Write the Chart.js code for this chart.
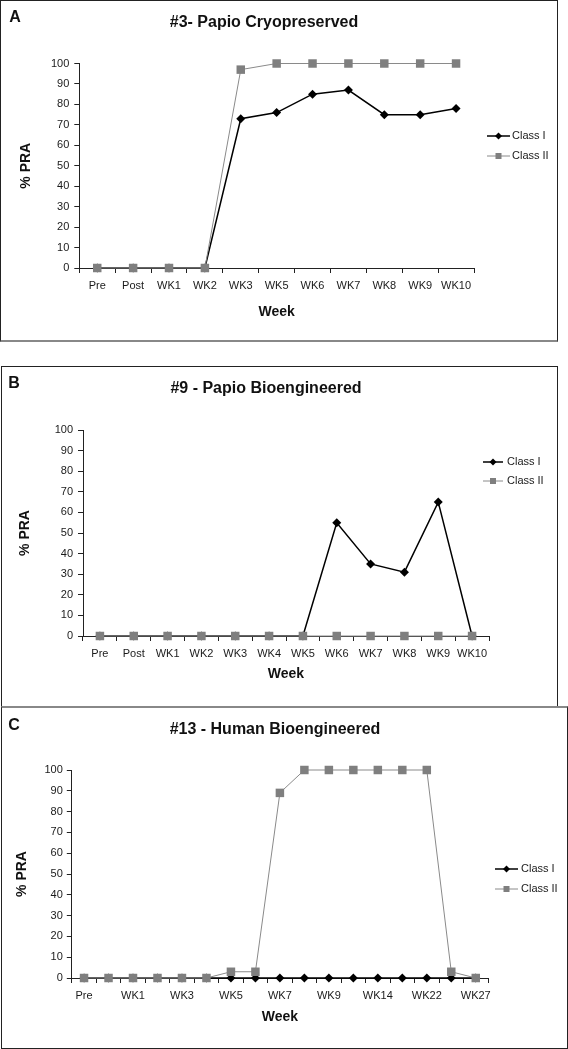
<!DOCTYPE html>
<html>
<head>
<meta charset="utf-8">
<script src="https://cdn.jsdelivr.net/npm/chart.js"></script>
<style>
  body { margin: 0; background: #fff; width: 568px; height: 1049px; position: relative; overflow: hidden; }
  canvas { position: absolute; }
  .frame { position: absolute; box-sizing: border-box; border: 1px solid #222; pointer-events: none; }
</style>
</head>
<body>
<canvas id="chartA" width="558" height="342" style="left:0;top:0"></canvas>
<div class="frame" style="left:0;top:0;width:558px;height:342px;border-bottom:2px solid #888"></div>

<canvas id="chartB" width="557" height="341" style="left:1px;top:366px"></canvas>
<div class="frame" style="left:1px;top:366px;width:557px;height:342px;border-bottom:2px solid #888"></div>

<canvas id="chartC" width="567" height="343" style="left:1px;top:706px"></canvas>
<div class="frame" style="left:1px;top:706px;width:567px;height:343px;border-top:2px solid #888"></div>

<script>
// panel A
const weeksA = ['Pre', 'Post', 'WK1', 'WK2', 'WK3', 'WK5', 'WK6', 'WK7', 'WK8', 'WK9', 'WK10']
const classIA = [0, 0, 0, 0, 73, 76, 85, 87, 75, 75, 78]
const classIIA = [0, 0, 0, 0, 97, 100, 100, 100, 100, 100, 100]

// panel B
const weeksB = ['Pre', 'Post', 'WK1', 'WK2', 'WK3', 'WK4', 'WK5', 'WK6', 'WK7', 'WK8', 'WK9', 'WK10']
const classIB = [0, 0, 0, 0, 0, 0, 0, 55, 35, 31, 65, 0]
const classIIB = [0, 0, 0, 0, 0, 0, 0, 0, 0, 0, 0, 0]

// panel C (only every other week label is printed)
const weeksC = ['Pre', 'Post', 'WK1', 'WK2', 'WK3', 'WK4', 'WK5', 'WK6', 'WK7', 'WK8', 'WK9', 'WK12', 'WK14', 'WK18', 'WK22', 'WK24', 'WK27']
const classIC = [0, 0, 0, 0, 0, 0, 0, 0, 0, 0, 0, 0, 0, 0, 0, 0, 0]
const classIIC = [0, 0, 0, 0, 0, 0, 3, 3, 89, 100, 100, 100, 100, 100, 100, 3, 0]

const yTicks = [0, 10, 20, 30, 40, 50, 60, 70, 80, 90, 100]

const FONT = '"Liberation Sans", Arial, sans-serif'
Chart.defaults.font.family = FONT
Chart.defaults.color = '#1a1a1a'

// panel letter, title and an Excel-like legend (line + marker)
const decor = {
    id: 'decor',
    afterDraw(chart, args, o) {
        const ctx = chart.ctx
        ctx.save()
        ctx.fillStyle = '#111'
        ctx.textBaseline = 'middle'
        ctx.textAlign = 'center'
        ctx.font = 'bold 16px ' + FONT
        ctx.fillText(o.letter, o.letterX, o.letterY)
        ctx.fillText(o.title, o.titleX, o.titleY)

        chart.data.datasets.forEach((ds, i) => {
            const y = o.legendY[i]
            const mx = (o.legendX0 + o.legendX1) / 2
            ctx.strokeStyle = ds.borderColor
            ctx.lineWidth = ds.borderWidth
            ctx.beginPath()
            ctx.moveTo(o.legendX0, y)
            ctx.lineTo(o.legendX1, y)
            ctx.stroke()
            ctx.fillStyle = ds.pointBackgroundColor
            ctx.beginPath()
            if (ds.pointStyle === 'rectRot') {
                ctx.moveTo(mx, y - 3.5)
                ctx.lineTo(mx + 3.5, y)
                ctx.lineTo(mx, y + 3.5)
                ctx.lineTo(mx - 3.5, y)
                ctx.closePath()
            } else {
                ctx.rect(mx - 3, y - 3, 6, 6)
            }
            ctx.fill()
            ctx.fillStyle = '#1a1a1a'
            ctx.textAlign = 'left'
            ctx.font = '11px ' + FONT
            ctx.fillText(ds.label, o.legendTX, y)
        })
        ctx.restore()
    }
}

function makeChart(id, labels, classI, classII, g) {
    const ctx = document.getElementById(id).getContext('2d')
    return new Chart(ctx, {
        type: 'line',
        data: {
            labels,
            datasets: [{
                label: 'Class I',
                data: classI,
                borderColor: '#000',
                borderWidth: 1.5,
                pointStyle: 'rectRot',
                pointRadius: 4.5,
                pointBackgroundColor: '#000',
                pointBorderWidth: 0,
                order: 1,
                clip: false
            }, {
                label: 'Class II',
                data: classII,
                borderColor: '#8a8a8a',
                borderWidth: 1,
                pointStyle: 'rect',
                pointRadius: 6,
                pointBackgroundColor: '#7f7f7f',
                pointBorderWidth: 0,
                order: 0,
                clip: false
            }]
        },
        options: {
            responsive: false,
            animation: false,
            devicePixelRatio: 1,
            layout: { padding: { left: 0, top: g.top, right: g.right, bottom: 0 } },
            plugins: {
                legend: { display: false },
                tooltip: { enabled: false },
                decor: g.decor
            },
            scales: {
                x: {
                    offset: true,
                    grid: { offset: true, drawOnChartArea: false, tickLength: 5, color: '#222' },
                    border: { color: '#222' },
                    ticks: {
                        autoSkip: false,
                        maxRotation: 0,
                        minRotation: 0,
                        padding: 6,
                        font: { size: 11 },
                        callback: function (v, i) {
                            return (i % g.labelEvery === 0) ? this.getLabelForValue(v) : ''
                        }
                    },
                    title: { display: true, text: 'Week', font: { size: 14, weight: 'bold' }, color: '#111', padding: { top: 0, bottom: g.xTitlePad } },
                    afterFit: s => { s.height = g.xH }
                },
                y: {
                    min: 0,
                    max: 100,
                    afterBuildTicks: s => { s.ticks = yTicks.map(v => ({ value: v })) },
                    grid: { drawOnChartArea: false, tickLength: 5, color: '#222' },
                    border: { color: '#222' },
                    ticks: { padding: g.yTickPad, font: { size: 11 } },
                    title: { display: true, text: '% PRA', font: { size: 14, weight: 'bold' }, color: '#111', padding: { top: g.yTitlePad, bottom: 0 } },
                    afterFit: s => { s.width = g.yW }
                }
            }
        },
        plugins: [decor]
    })
}

makeChart('chartA', weeksA, classIA, classIIA, {
    top: 63.5, right: 84, xH: 74, yW: 79.3, xTitlePad: 21.6, yTitlePad: 17.6, yTickPad: 5, labelEvery: 1,
    decor: { letter: 'A', letterX: 15, letterY: 18, title: '#3- Papio Cryopreserved', titleX: 264, titleY: 23,
        legendX0: 487, legendX1: 510, legendTX: 512, legendY: [136, 156] }
})

makeChart('chartB', weeksB, classIB, classIIB, {
    top: 64, right: 69, xH: 71, yW: 82, xTitlePad: 24.6, yTitlePad: 15.6, yTickPad: 5, labelEvery: 1,
    decor: { letter: 'B', letterX: 13, letterY: 18, title: '#9 - Papio Bioengineered', titleX: 265, titleY: 23,
        legendX0: 482, legendX1: 502, legendTX: 506, legendY: [96, 115] }
})

makeChart('chartC', weeksC, classIC, classIIC, {
    top: 64, right: 80, xH: 71, yW: 70.8, xTitlePad: 23.6, yTitlePad: 12.6, yTickPad: 4, labelEvery: 2,
    decor: { letter: 'C', letterX: 13, letterY: 20, title: '#13 - Human Bioengineered', titleX: 274, titleY: 24,
        legendX0: 494, legendX1: 517, legendTX: 520, legendY: [163, 183] }
})
</script>
</body>
</html>
